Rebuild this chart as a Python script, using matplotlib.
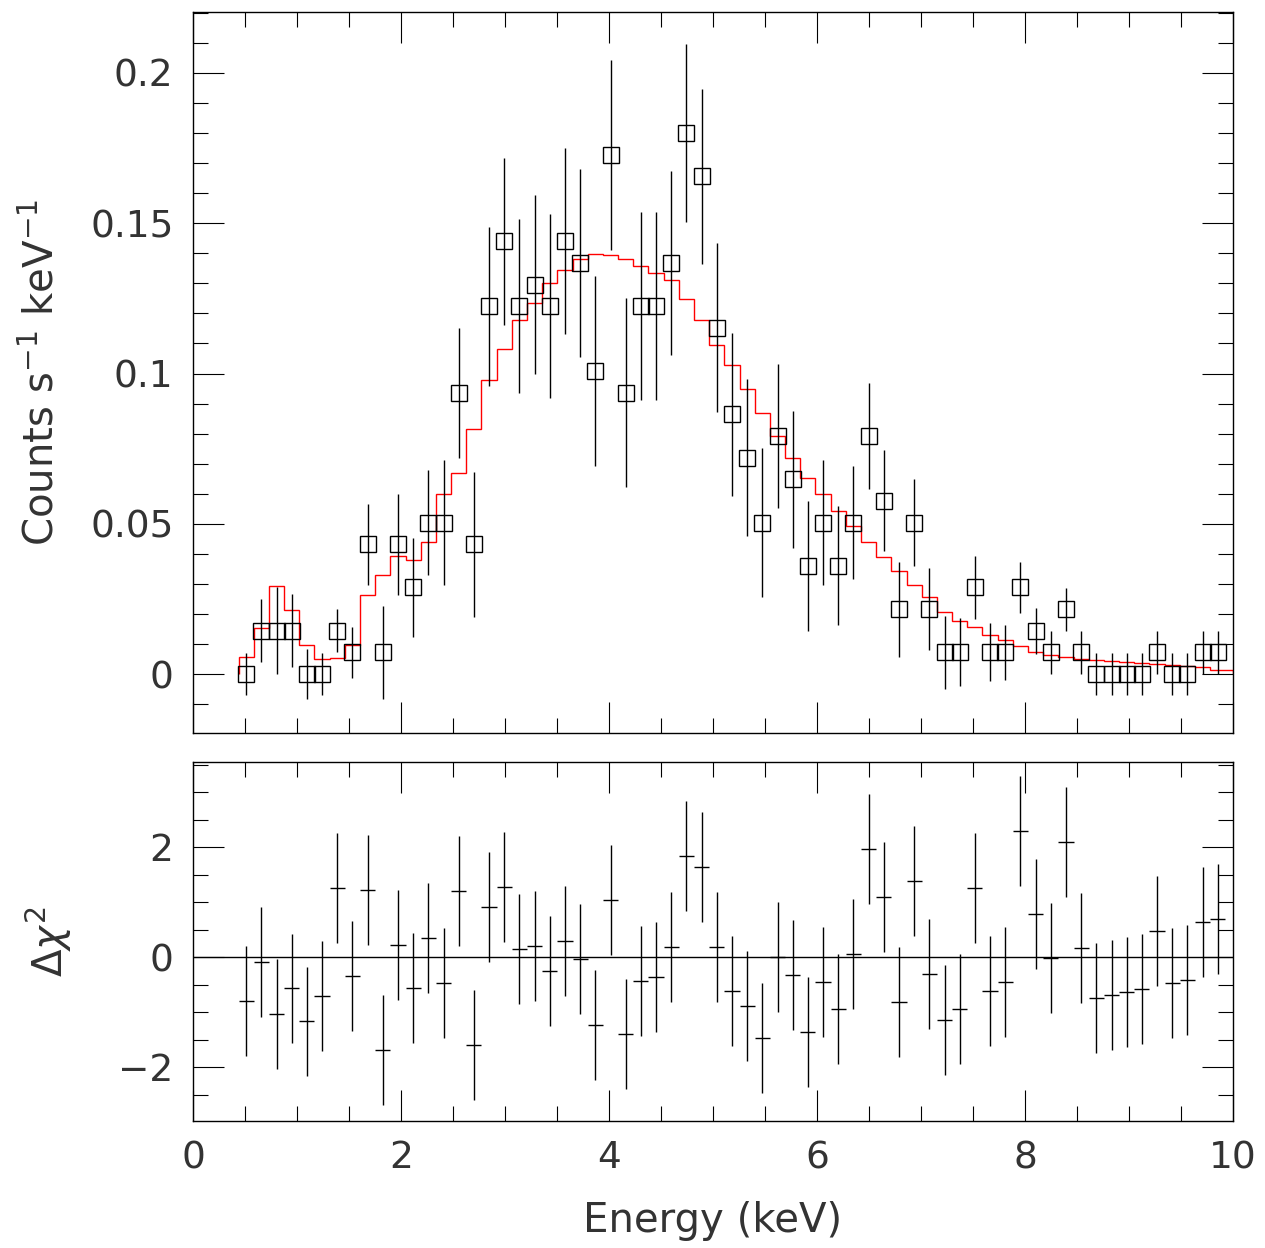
import numpy as np
import matplotlib
matplotlib.use("Agg")
import matplotlib.pyplot as plt
from matplotlib.ticker import MultipleLocator

# channel energies (keV), 65 bins of ~0.146 keV
energy = np.linspace(0.511, 9.854, 65)
half_width = 0.073
unit = 0.0072  # one count in rate units

counts = [0, 2, 2, 2, 0, 0, 2, 1, 6, 1, 6, 4, 7, 7, 13, 6, 17, 20, 17, 18,
          17, 20, 19, 14, 24, 13, 17, 17, 19, 25, 23, 16, 12, 10, 7, 11, 9, 5, 7, 5,
          7, 11, 8, 3, 7, 3, 1, 1, 4, 1, 1, 4, 2, 1, 3, 1, 0, 0, 0, 0,
          1, 0, 0, 1, 1]

err_px = [47, 70, 97, 82, 56, 47, 48, 57, 91, 104, 113, 110, 118, 140, 146, 162, 178, 187, 195, 200,
          206, 208, 211, 213, 213, 212, 210, 210, 206, 200, 195, 189, 182, 176, 167, 161, 153, 145, 139, 133,
          126, 119, 113, 106, 98, 91, 82, 76, 71, 65, 61, 56, 51, 49, 48, 48, 47, 47, 47, 47,
          48, 47, 47, 48, 48]

model = [0.0057, 0.0153, 0.0293, 0.0213, 0.0098, 0.0049, 0.0052, 0.0098, 0.0262, 0.0330,
         0.0394, 0.0379, 0.0440, 0.0600, 0.0670, 0.0817, 0.0979, 0.1080, 0.1177, 0.1236,
         0.1300, 0.1346, 0.1380, 0.1398, 0.1395, 0.1380, 0.1358, 0.1336, 0.1310, 0.1247,
         0.1178, 0.1094, 0.1029, 0.0949, 0.0868, 0.0791, 0.0720, 0.0654, 0.0598, 0.0543,
         0.0491, 0.0439, 0.0390, 0.0342, 0.0297, 0.0256, 0.0208, 0.0178, 0.0155, 0.0129,
         0.0112, 0.0092, 0.0073, 0.0062, 0.0057, 0.0051, 0.0048, 0.0043, 0.0039, 0.0036,
         0.0033, 0.0030, 0.0027, 0.0022, 0.0015]

resid = [-0.79, -0.09, -1.03, -0.57, -1.17, -0.71, 1.25, -0.35, 1.22, -1.69,
         0.22, -0.56, 0.35, -0.47, 1.21, -1.59, 0.91, 1.28, 0.15, 0.20,
         -0.26, 0.30, -0.04, -1.24, 1.04, -1.40, -0.43, -0.36, 0.19, 1.84,
         1.64, 0.19, -0.61, -0.89, -1.47, 0.00, -0.33, -1.37, -0.46, -0.94,
         0.06, 1.96, 1.09, -0.82, 1.38, -0.30, -1.14, -0.95, 1.25, -0.62,
         -0.46, 2.30, 0.78, -0.02, 2.09, 0.17, -0.75, -0.69, -0.63, -0.58,
         0.48, -0.47, -0.41, 0.64, 0.69]

rate = np.array(counts) * unit
rate_err = np.array(err_px) * 1.487e-4
edges = np.append(energy - half_width, 10.0)

plt.rcParams["font.family"] = "DejaVu Sans"
fig = plt.figure(figsize=(12.65, 12.48), dpi=100)
ax1 = fig.add_axes([0.1526, 0.4127, 0.8221, 0.5777])
ax2 = fig.add_axes([0.1526, 0.1018, 0.8221, 0.2876])

ax1.errorbar(energy, rate, yerr=rate_err, fmt="s", mfc="none", mec="black",
             ms=11, mew=1.0, ecolor="black", elinewidth=1.0, capsize=0)
ax1.stairs(model, edges, color="red", lw=1.0)
ax1.set_xlim(0, 10)
ax1.set_ylim(-0.0196, 0.2203)
ax1.yaxis.set_minor_locator(MultipleLocator(0.01))
ax1.set_yticks([0, 0.05, 0.1, 0.15, 0.2])
ax1.set_yticklabels(["0", "0.05", "0.1", "0.15", "0.2"])
ax1.tick_params(labelbottom=False)
ax1.set_ylabel("Counts s$^{-1}$ keV$^{-1}$", fontsize=29, color="#333333", labelpad=20)

ax2.errorbar(energy, resid, xerr=half_width, yerr=1.0, fmt="none",
             ecolor="black", elinewidth=1.0, capsize=0)
ax2.axhline(0, color="black", lw=1.0)
ax2.set_xlim(0, 10)
ax2.set_ylim(-2.98, 3.55)
ax2.yaxis.set_minor_locator(MultipleLocator(0.5))
ax2.set_yticks([-2, 0, 2])
ax2.set_yticklabels(["\u22122", "0", "2"])
ax2.set_ylabel("$\\Delta\\chi^2$", fontsize=29, color="#333333", labelpad=32)
ax2.set_xlabel("Energy (keV)", fontsize=29, color="#333333", labelpad=18)

for ax in (ax1, ax2):
    ax.xaxis.set_major_locator(MultipleLocator(2))
    ax.xaxis.set_minor_locator(MultipleLocator(0.5))
    ax.tick_params(which="both", direction="in", top=True, right=True,
                   labelsize=27, labelcolor="#333333", width=0.8, pad=14)
    ax.tick_params(which="major", length=22)
    ax.tick_params(which="minor", length=11)
    for s in ax.spines.values():
        s.set_linewidth(1.0)

fig.savefig("out.png", dpi=100)
